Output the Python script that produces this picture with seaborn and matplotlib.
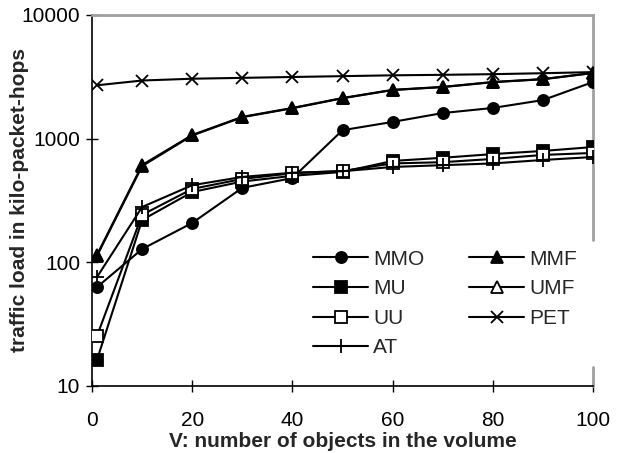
import pandas as pd
import matplotlib.pyplot as plt
import matplotlib.ticker as mticker
import seaborn as sns

V = [1, 10, 20, 30, 40, 50, 60, 70, 80, 90, 100]

mmo = [63, 128, 208, 400, 480, 1170, 1365, 1610, 1770, 2050, 2870]
mu = [16.3, 220, 370, 450, 500, 538, 660, 700, 750, 795, 855]
uu = [25.4, 242, 392, 472, 525, 548, 630, 645, 685, 738, 766]
at = [76, 280, 420, 490, 530, 545, 590, 610, 630, 672, 710]
mmf = [115, 612, 1070, 1500, 1770, 2130, 2480, 2620, 2870, 3030, 3400]
umf = [113, 600, 1060, 1490, 1760, 2120, 2470, 2610, 2860, 3020, 3390]
pet = [2700, 2950, 3050, 3100, 3150, 3200, 3250, 3280, 3320, 3380, 3450]

series = ['MMO', 'MU', 'UU', 'AT', 'MMF', 'UMF', 'PET']
values = [mmo, mu, uu, at, mmf, umf, pet]

sns.set_style('white')
plt.rcParams['font.family'] = ['Liberation Sans', 'DejaVu Sans']

# marker, face colour, size, zorder
styles = {
    'MMO': ('o', 'black', 8, 3),
    'MU': ('s', 'black', 8, 3.1),
    'UU': ('s', 'white', 8, 3.2),
    'AT': ('+', 'black', 10, 3.3),
    'MMF': ('^', 'black', 8, 3.5),
    'UMF': ('^', 'white', 8, 3.4),
    'PET': ('x', 'black', 9, 3.6),
}

fig = plt.figure(figsize=(6.23, 4.53), dpi=100)
ax = fig.add_axes([0.1477, 0.148, 0.8043, 0.819])

for name, vals in zip(series, values):
    df = pd.DataFrame({'V': V, 'load': vals})
    mk, face, ms, z = styles[name]
    sns.lineplot(data=df, x='V', y='load', ax=ax, color='black', linewidth=1.5,
                 marker=mk, markersize=ms, markerfacecolor=face,
                 markeredgecolor='black', markeredgewidth=1.3, label=name, zorder=z)

ax.set_yscale('log')
ax.set_ylim(10, 10000)
ax.set_xlim(0, 100)
ax.set_xticks([0, 20, 40, 60, 80, 100])
ax.yaxis.set_major_formatter(mticker.FuncFormatter(lambda v, p: f'{int(v)}'))
ax.yaxis.set_minor_locator(mticker.NullLocator())
ax.tick_params(axis='both', direction='inout', length=8, width=1, labelsize=15,
               colors='black', bottom=True, left=True)
ax.tick_params(axis='x', pad=14)
ax.tick_params(axis='y', pad=4.5)

for s in ['left', 'bottom']:
    ax.spines[s].set_color('black')
    ax.spines[s].set_linewidth(1.2)
ax.spines['top'].set_color('#a0a0a0')
ax.spines['top'].set_linewidth(2)
# right border is broken where the legend box sits
ax.spines['right'].set_visible(False)
ax.axvline(100, ymin=0, ymax=0.051, color='#a0a0a0', linewidth=2, clip_on=False)
ax.axvline(100, ymin=0.394, ymax=1, color='#a0a0a0', linewidth=2, clip_on=False)

ax.set_xlabel('V: number of objects in the volume', fontsize=15, fontweight='bold')
ax.set_ylabel('traffic load in kilo-packet-hops', fontsize=15, fontweight='bold')
ax.xaxis.set_label_coords(0.5, -0.124)
ax.yaxis.set_label_coords(-0.126, 0.5)

leg = ax.legend(ncol=2, loc='upper left', bbox_to_anchor=(0.4245, 0.39), fontsize=15,
                frameon=False, handlelength=2.64, handletextpad=0.25,
                columnspacing=2.15, labelspacing=0.51, borderpad=0.4, borderaxespad=0)

fig.savefig('out.png', dpi=100)
